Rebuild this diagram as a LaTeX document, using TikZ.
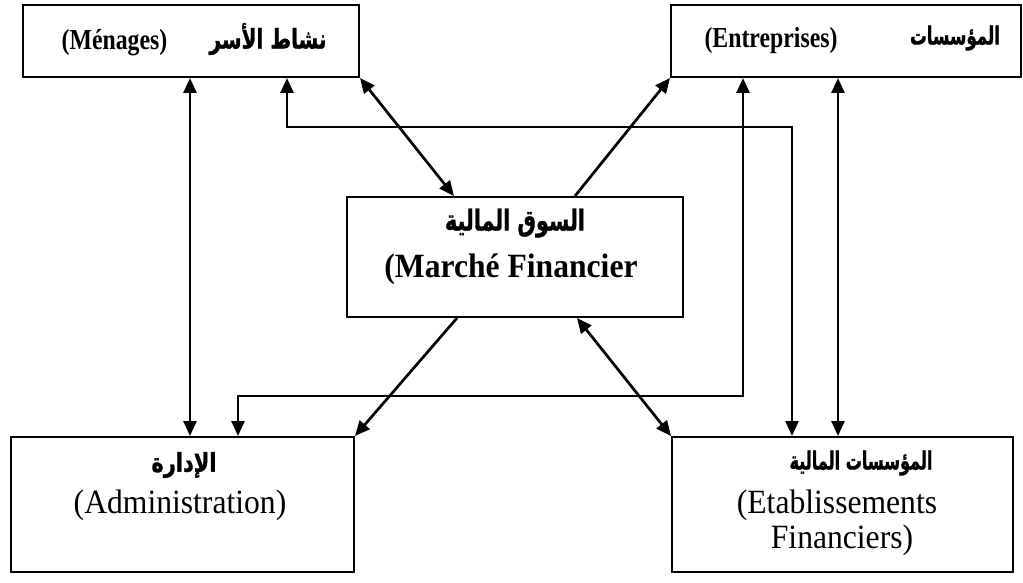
\documentclass[tikz,border=0pt]{standalone}
\usepackage{fontspec}
\usepackage{graphicx}
\setmainfont[FakeStretch=0.93]{Liberation Serif}
\newfontfamily\topfont[FakeStretch=0.82]{Liberation Serif}
\newfontfamily\arabicfont[Script=Arabic,BoldFeatures={FakeBold=1.5}]{DejaVu Sans}
\TeXXeTstate=1
\usetikzlibrary{arrows.meta,fit}
% Arabic text fitted to a given width and total height
\newcommand{\arw}[3]{\resizebox*{#1}{#2}{\arabicfont\bfseries #3}}
\begin{document}
\begin{tikzpicture}[x=0.5pt,y=-0.5pt,
  box/.style={draw, line width=1pt, inner sep=0pt},
  small/.style={font=\topfont\fontsize{14.5}{17}\selectfont\bfseries, inner sep=0pt, anchor=base},
  big/.style={font=\fontsize{17}{20}\selectfont, inner sep=0pt, anchor=base},
  arab/.style={inner sep=0pt, anchor=center},
  con/.style={line width=1.35pt, -{Triangle[length=7.5pt,width=6.5pt]}},
  dcon/.style={line width=1.35pt, {Triangle[length=7.5pt,width=6.5pt]}-{Triangle[length=7.5pt,width=6.5pt]}}]
\useasboundingbox (0,0) rectangle (1023,583);

% boxes
\node[box, fit={(23,5) (359,77)}] (men) {};
\node[box, fit={(671,5) (1021,77)}] (ent) {};
\node[box, fit={(347,197) (683,317)}] (mkt) {};
\node[box, fit={(11,437) (354,572)}] (adm) {};
\node[box, fit={(672,437) (1013,572)}] (eta) {};

% texts
\node[small] (menT) at (114.5,50) {(Ménages)};
\node[arab] (menA) at (268,39) {\arw{58.5pt}{16pt}{\beginR نشاط الأسر\endR}};
\node[small] (entT) at (771,48) {(Entreprises)};
\node[arab] (entA) at (955,38) {\arw{45pt}{12.5pt}{\beginR المؤسسات\endR}};
\node[arab] (mktA) at (515,223) {\arw{70pt}{14.5pt}{\beginR السوق المالية\endR}};
\node[big] (mktB) at (511,277) {\textbf{(Marché Financier}};
\node[arab] (admA) at (184,465) {\arw{32.5pt}{13pt}{\beginR الإدارة\endR}};
\node[big] (admB) at (180,513) {(Administration)};
\node[arab] (etaA) at (861,463) {\arw{71.5pt}{12.5pt}{\beginR المؤسسات المالية\endR}};
\node[big] (etaB) at (837,513) {(Etablissements};
\node[big] (etaC) at (842,548) {Financiers)};

% vertical connectors
\draw[dcon] (men.south -| 190,0) -- (adm.north -| 190,0);
\draw[dcon] (ent.south -| 838,0) -- (eta.north -| 838,0);
% routed connectors
\draw[dcon] (men.south -| 287,0) -- (287,127) -| (eta.north -| 792,0);
\draw[dcon] (ent.south -| 743,0) -- (743,396) -| (adm.north -| 238,0);
% diagonals
\draw[dcon] (men.south east) -- (mkt.north -| 454,0);
\draw[con] (mkt.north -| 575,0) -- (ent.south west);
\draw[con] (mkt.south -| 457,0) -- (adm.north east);
\draw[dcon] (mkt.south -| 577,0) -- (eta.north west);
\end{tikzpicture}
\end{document}
